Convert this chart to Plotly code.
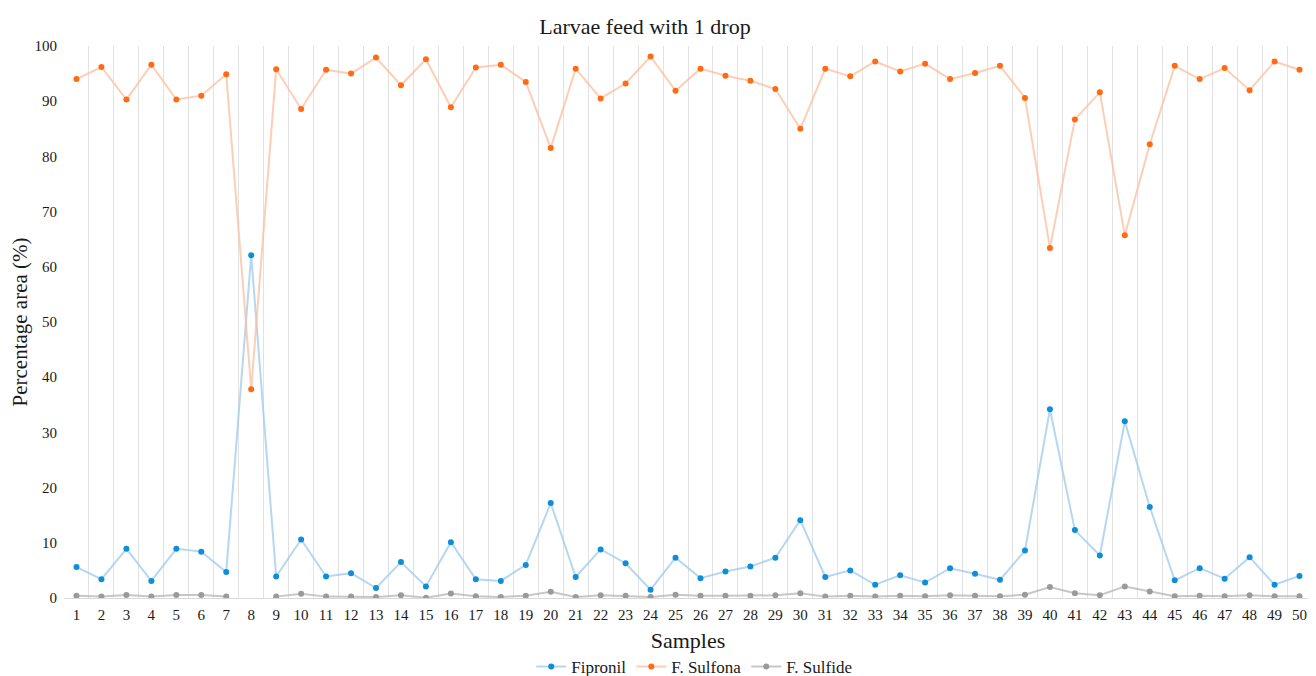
import plotly.graph_objects as go

samples = list(range(1, 51))

fipronil = [5.6, 3.4, 8.9, 3.1, 8.9, 8.4, 4.7, 62.1, 3.9, 10.6,
            3.9, 4.5, 1.8, 6.5, 2.1, 10.1, 3.4, 3.1, 6.0, 17.2,
            3.8, 8.8, 6.3, 1.5, 7.3, 3.6, 4.8, 5.7, 7.3, 14.1,
            3.8, 5.0, 2.4, 4.1, 2.8, 5.4, 4.4, 3.3, 8.6, 34.2,
            12.3, 7.7, 32.0, 16.5, 3.2, 5.4, 3.5, 7.4, 2.4, 4.0]

sulfona = [94.0, 96.2, 90.3, 96.6, 90.3, 91.0, 94.9, 37.8, 95.8, 88.6,
           95.7, 95.0, 97.9, 92.9, 97.6, 88.9, 96.1, 96.6, 93.5, 81.5,
           95.9, 90.5, 93.2, 98.1, 91.9, 95.9, 94.6, 93.7, 92.2, 85.0,
           95.9, 94.5, 97.2, 95.4, 96.8, 94.0, 95.1, 96.4, 90.6, 63.4,
           86.7, 91.6, 65.7, 82.2, 96.4, 94.0, 96.0, 92.0, 97.2, 95.7]

sulfide = [0.4, 0.25, 0.55, 0.25, 0.55, 0.55, 0.25, None, 0.25, 0.75,
           0.25, 0.25, 0.2, 0.5, 0.05, 0.8, 0.3, 0.2, 0.4, 1.15,
           0.2, 0.5, 0.4, 0.2, 0.6, 0.4, 0.4, 0.4, 0.5, 0.85,
           0.25, 0.4, 0.25, 0.4, 0.3, 0.5, 0.4, 0.3, 0.6, 2.0,
           0.85, 0.5, 2.1, 1.2, 0.3, 0.4, 0.3, 0.5, 0.3, 0.3]

serif = "Liberation Serif"

fig = go.Figure()

series = [
    ("Fipronil", fipronil, "rgba(157,201,236,0.75)", "#0E8ED8"),
    ("F. Sulfona", sulfona, "rgba(252,190,158,0.75)", "#FF6A13"),
    ("F. Sulfide", sulfide, "rgba(180,180,180,0.75)", "#9A9A9A"),
]

for name, values, line_color, marker_color in series:
    fig.add_trace(go.Scatter(
        x=[str(s) for s in samples],
        y=values,
        mode="lines+markers",
        name=name,
        line=dict(color=line_color, width=2),
        marker=dict(color=marker_color, size=6),
        connectgaps=False,
    ))

# page body has an 8px margin, so the figure is sized to fit inside it
fig.update_layout(
    template="plotly_white",
    width=1308,
    height=668,
    margin=dict(l=56, r=4, t=38, b=78, autoexpand=False),
    paper_bgcolor="white",
    plot_bgcolor="white",
    font=dict(family=serif, color="#1a1a1a"),
    title=dict(
        text="Larvae feed with 1 drop",
        x=0.487,
        xanchor="center",
        yref="container",
        y=0.973,
        yanchor="middle",
        font=dict(size=22, family=serif, color="#1a1a1a"),
    ),
    legend=dict(
        orientation="h",
        x=0.505,
        xanchor="center",
        y=-0.125,
        yanchor="middle",
        font=dict(size=17, family=serif, color="#1a1a1a"),
    ),
)

fig.update_xaxes(
    type="category",
    range=[-0.5, 49.5],
    tickson="boundaries",
    showgrid=True,
    gridcolor="#e2e2e2",
    gridwidth=1,
    ticks="",
    ticklabelstandoff=3,
    showline=True,
    linecolor="#d9d9d9",
    automargin=False,
    tickfont=dict(size=15, family=serif, color="#1a1a1a"),
    title=dict(text="Samples", font=dict(size=22, family=serif), standoff=10),
    zeroline=False,
)

fig.update_yaxes(
    range=[0, 100],
    dtick=10,
    showgrid=False,
    zeroline=False,
    showline=False,
    ticks="",
    ticklabelstandoff=6,
    automargin=False,
    tickfont=dict(size=15, family=serif, color="#1a1a1a"),
    title=dict(text="Percentage area (%)", font=dict(size=21, family=serif), standoff=2),
)

fig.write_html("out.html")
